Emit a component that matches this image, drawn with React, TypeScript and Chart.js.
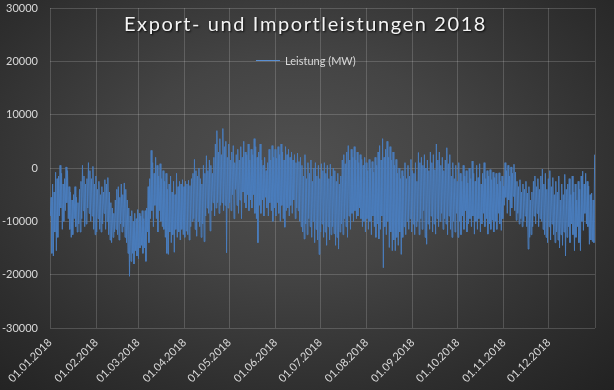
import React, { useEffect, useRef } from 'react';
import { Chart, registerables } from 'chart.js';

Chart.register(...registerables);

const TITLE = 'Export- und Importleistungen 2018';
const SERIES_LABEL = 'Leistung (MW)';
const MONTH_START_DAYS = [0, 31, 59, 90, 120, 151, 181, 212, 243, 273, 304, 334];
const MONTH_LABELS = [
  '01.01.2018', '01.02.2018', '01.03.2018', '01.04.2018', '01.05.2018', '01.06.2018',
  '01.07.2018', '01.08.2018', '01.09.2018', '01.10.2018', '01.11.2018', '01.12.2018',
];
const DAYS_IN_YEAR = 365;
const Y_MIN = -30000;
const Y_MAX = 30000;
const Y_STEP = 10000;

// Daily maximum of the hourly exchange power (MW), 01.01.2018 .. 31.12.2018
const DAILY_HIGH = [
  -5500, -3000, -4500, -800, -2000, -1500, 500, -1000, -3000, -2000,
  200, -500, -3500, -4500, -6000, -5000, -3500, -5500, -6500, -4000,
  -2500, 500, -1500, -3000, -2000, 1000, -500, -2000, 300, -3000,
  -1500, -4000, -2500, -5000, -3500, -4500, -2200, -3000, -1800, -4500,
  -6500, -7500, -8500, -6000, -4000, -3500, -5500, -3000, -5000, -2800,
  -4000, -6000, -7500, -9000, -8000, -10000, -8500, -9500, -7800, -8500,
  -9000, -8000, -9500, -8000, -7500, -3500, -2000, 3300, 1000, -1000,
  2000, 500, -1500, 800, -2000, -500, -2500, -1000, -4000, -3000,
  -1500, -4500, -2500, -5000, -1000, -3500, -2500, -3000, -2200, -3500,
  -2500, -3000, -2300, -3300, -2000, -1000, 1600, -500, -1500, 0,
  -2000, -3000, 500, -1000, 2300, -500, 1500, 500, -1000, 2000,
  4500, 7000, 3000, 5500, 2500, 7400, 4000, 5000, 2000, 4500,
  1500, 3000, 4200, 1000, 2500, 3500, 1500, 4000, 2000, 5000,
  3000, 2500, 4500, 1500, 3500, 2500, 5500, 4000, 2000, 3000,
  4500, 1500, 500, 2000, -500, 1000, 3500, 1500, 4200, 2000,
  3500, 1800, 4000, 2500, 4500, 3000, 1500, 4000, 2500, 3500,
  2000, 3000, 1500, 2500, 1000, 2800, 1200, 2000, 500, -1500,
  2500, -2000, 1000, -1000, 1500, -2500, 0, 1000, -1500, 500,
  -2000, 800, -500, 1000, -1000, 500, -2000, 700, -1500, 0,
  -500, -2500, -1000, -3000, -1500, 1500, 2500, 800, 3000, 4200,
  1500, 3500, 2000, 4000, 1500, 3000, 1000, 2500, 1600, 500,
  2000, 1000, -500, 1600, 0, 1200, -800, 2000, 500, 3000,
  4200, 1500, 5500, 2000, 3500, 5000, 2000, 4000, 1500, 3000,
  500, 1600, -1000, 0, -2000, -500, -1500, 1000, -2000, 500,
  -1500, 1600, -500, -1000, 1000, -2500, 2900, 1000, 2000, 500,
  2500, 0, 1500, -500, 3000, 1000, 2500, -300, 4500, 1500,
  3000, 500, 2000, -500, 1500, 3800, 800, 2500, -1500, 1000,
  -2000, 500, -2500, 1000, -1000, -2500, 500, -1500, -500, -2800,
  0, -2000, 1300, -1000, -2500, 500, -1800, 800, -3000, -1000,
  1000, -2000, -500, -1500, -300, -2200, -800, -1800, -1000, -3000,
  -900, -2500, -1500, -3400, 1000, -500, 500, -1500, 200, -1000,
  700, -800, -2500, -3500, -2200, -4500, -3000, -4000, -2500, -4700,
  -3500, -6000, -4500, -2500, -1500, -3500, -2000, -4000, -1500, -200,
  -3000, -1000, -4000, -2000, -500, -3500, -1800, -5000, -2500, -4500,
  -1500, -6000, -3000, -5000, -1200, -4000, -3000, -2000, -5000, -1500,
  -4500, -3000, -6000, -2500, -4000, -1500, -600, -3000, -1000, -2500,
  -3400, -5000, -4700, -6000, 2500,
];

// Daily minimum of the hourly exchange power (MW)
const DAILY_LOW = [
  -9000, -16000, -16500, -12000, -15500, -13000, -9000, -7500, -11500, -10000,
  -8000, -6500, -9500, -11500, -13000, -12500, -9500, -11000, -12000, -10500,
  -12000, -9500, -8000, -11000, -10500, -7500, -8500, -10000, -9000, -11500,
  -12500, -12000, -9500, -11500, -12000, -10500, -8500, -11500, -10000, -12500,
  -13500, -14000, -13000, -12000, -11500, -12500, -13500, -10500, -12000, -11000,
  -13000, -14000, -16000, -20300, -17500, -16000, -18000, -15500, -16500, -17000,
  -15000, -14500, -16000, -15000, -17500, -12000, -14000, -9500, -8000, -11000,
  -7000, -9500, -12000, -8000, -10000, -11000, -11500, -13000, -16000, -16200,
  -12000, -14000, -12500, -15800, -11500, -13000, -12000, -13500, -11500, -12500,
  -13000, -11800, -12500, -13500, -11000, -10000, -9500, -11500, -12800, -10000,
  -11000, -13000, -10500, -13800, -9000, -7500, -8500, -11800, -8000, -6500,
  -9000, -7500, -6500, -8500, -7000, -6500, -8000, -7000, -15900, -7500,
  -6500, -8000, -5000, -9500, -4000, -7000, -8500, -6000, -9500, -4500,
  -6500, -7500, -5000, -8000, -6000, -7500, -5000, -8500, -9500, -14000,
  -7000, -8500, -6000, -9000, -5500, -7500, -9000, -6500, -8000, -10000,
  -7500, -9000, -6500, -8500, -10000, -7000, -9500, -11100, -8000, -7500,
  -9000, -7000, -8500, -6000, -9500, -7500, -8000, -10000, -11000, -12000,
  -13300, -10500, -12500, -9500, -11000, -13000, -10000, -14000, -11500, -13500,
  -16200, -12000, -10500, -13000, -12000, -14500, -11000, -13500, -12500, -11000,
  -12300, -14500, -13000, -15200, -12000, -10500, -12500, -9500, -11000, -13000,
  -9000, -11500, -8500, -10000, -8000, -9500, -9000, -7500, -9500, -11000,
  -10000, -12000, -9500, -11500, -10000, -12500, -9000, -11000, -13000, -10500,
  -13300, -11500, -9000, -18700, -11000, -12500, -10000, -14900, -12000, -15500,
  -13500, -15500, -13000, -14500, -12000, -16200, -13000, -11000, -12500, -10000,
  -11500, -9500, -12000, -10500, -12500, -11000, -10000, -12500, -9500, -11500,
  -8000, -13000, -14300, -10500, -11500, -9000, -12000, -10500, -12400, -9500,
  -11000, -10000, -8500, -11500, -9500, -10500, -12500, -9000, -11500, -13000,
  -10000, -12000, -8500, -13000, -10000, -12500, -9000, -11500, -8000, -12000,
  -10500, -9500, -11000, -9000, -12400, -10000, -11500, -9500, -12000, -10500,
  -8500, -11000, -9500, -12400, -10500, -11500, -9800, -12000, -10000, -11500,
  -8500, -10500, -11700, -9500, -7000, -5500, -8500, -6000, -9000, -7500,
  -5300, -8000, -9800, -8500, -10500, -9500, -11000, -10000, -9000, -11000,
  -15200, -13000, -12500, -11000, -9000, -10500, -8500, -11000, -9500, -10000,
  -11500, -12500, -13000, -14000, -11000, -13500, -10500, -12500, -14000, -12000,
  -13500, -15000, -12500, -14500, -12000, -16500, -13000, -11000, -14000, -10500,
  -12500, -15500, -13000, -11000, -14000, -15500, -10000, -11700, -8500, -10500,
  -11000, -14300, -13500, -13800, -14000,
];

const LINE_COLOR = '#4a7dbd';
const LEGEND_LINE_COLOR = '#5a8fd2';
const TEXT_COLOR = '#d9d9d9';
const GRID_COLOR = 'rgba(255,255,255,0.17)';
const FONT_FAMILY = 'Lato, "Open Sans", sans-serif';

const overlayPlugin = {
  id: 'overlayTitleLegend',
  afterDraw(chart: any) {
    const ctx = chart.ctx as CanvasRenderingContext2D;
    const area = chart.chartArea;
    const cx = (area.left + area.right) / 2 - 17;
    ctx.save();
    // Title
    ctx.font = '20px ' + FONT_FAMILY;
    (ctx as any).letterSpacing = '1.6px';
    ctx.textAlign = 'center';
    ctx.textBaseline = 'middle';
    ctx.shadowColor = 'rgba(0,0,0,0.85)';
    ctx.shadowOffsetX = 1;
    ctx.shadowOffsetY = 1;
    ctx.shadowBlur = 2;
    ctx.fillStyle = '#f4f4f4';
    ctx.fillText(TITLE, cx, 25);
    ctx.restore();

    // Legend
    ctx.save();
    ctx.font = '11px ' + FONT_FAMILY;
    const tw = ctx.measureText(SERIES_LABEL).width;
    const lineLen = 24;
    const gap = 5;
    const total = lineLen + gap + tw;
    const lx = Math.round(cx - total / 2);
    const ly = 61;
    ctx.strokeStyle = LEGEND_LINE_COLOR;
    ctx.lineWidth = 1;
    ctx.beginPath();
    ctx.moveTo(lx, ly - 0.5);
    ctx.lineTo(lx + lineLen, ly - 0.5);
    ctx.stroke();
    ctx.fillStyle = TEXT_COLOR;
    ctx.textAlign = 'left';
    ctx.textBaseline = 'middle';
    ctx.fillText(SERIES_LABEL, lx + lineLen + gap, ly);
    ctx.restore();
  },
};

export default function App() {
  const canvasRef = useRef<HTMLCanvasElement | null>(null);

  useEffect(() => {
    const canvas = canvasRef.current;
    if (!canvas) return;
    const points: { x: number; y: number }[] = [];
    for (let i = 0; i < DAILY_HIGH.length; i++) {
      points.push({ x: i + 0.25, y: DAILY_LOW[i] });
      points.push({ x: i + 0.75, y: DAILY_HIGH[i] });
    }
    const tickValues = [...MONTH_START_DAYS, DAYS_IN_YEAR];

    const chart = new Chart(canvas, {
      type: 'line',
      data: {
        datasets: [
          {
            label: SERIES_LABEL,
            data: points,
            borderColor: LINE_COLOR,
            borderWidth: 1,
            pointRadius: 0,
            tension: 0,
            fill: false,
          },
        ],
      },
      options: {
        animation: false,
        responsive: false,
        devicePixelRatio: 1,
        layout: { padding: { top: 8, right: 19, left: 0, bottom: 0 } },
        plugins: {
          legend: { display: false },
          title: { display: false },
          tooltip: { enabled: false },
        },
        scales: {
          x: {
            type: 'linear',
            min: 0,
            max: DAYS_IN_YEAR,
            afterBuildTicks: (scale: any) => {
              scale.ticks = tickValues.map((v) => ({ value: v }));
            },
            afterFit: (scale: any) => {
              scale.height = 62;
              scale.paddingLeft = 0;
              scale.paddingRight = 0;
              scale.paddingTop = 0;
              scale.paddingBottom = 0;
            },
            ticks: {
              autoSkip: false,
              maxRotation: 45,
              minRotation: 45,
              padding: 8,
              color: TEXT_COLOR,
              font: { family: FONT_FAMILY, size: 11 },
              callback: (value: any) => {
                const idx = MONTH_START_DAYS.indexOf(Number(value));
                return idx >= 0 ? MONTH_LABELS[idx] : '';
              },
            },
            grid: { color: GRID_COLOR, drawTicks: false, lineWidth: 1 },
            border: { display: false },
          },
          y: {
            min: Y_MIN,
            max: Y_MAX,
            afterFit: (scale: any) => {
              scale.width = 50;
              scale.paddingTop = 0;
              scale.paddingBottom = 0;
              scale.paddingLeft = 0;
              scale.paddingRight = 0;
            },
            ticks: {
              stepSize: Y_STEP,
              padding: 12,
              color: TEXT_COLOR,
              font: { family: FONT_FAMILY, size: 11 },
              callback: (value: any) => String(value),
            },
            grid: { color: GRID_COLOR, drawTicks: false, lineWidth: 1 },
            border: { display: false },
          },
        },
      },
      plugins: [overlayPlugin],
    });
    return () => chart.destroy();
  }, []);

  return (
    <div
      style={{
        position: 'absolute',
        left: 0,
        top: 0,
        width: 614,
        height: 390,
        background:
          'radial-gradient(ellipse 75% 80% at 48% 42%, #505050 0%, #444444 35%, #2e2e2e 75%, #222222 100%)',
      }}
    >
      <canvas ref={canvasRef} width={614} height={390} style={{ display: 'block', width: 614, height: 390 }} />
    </div>
  );
}
